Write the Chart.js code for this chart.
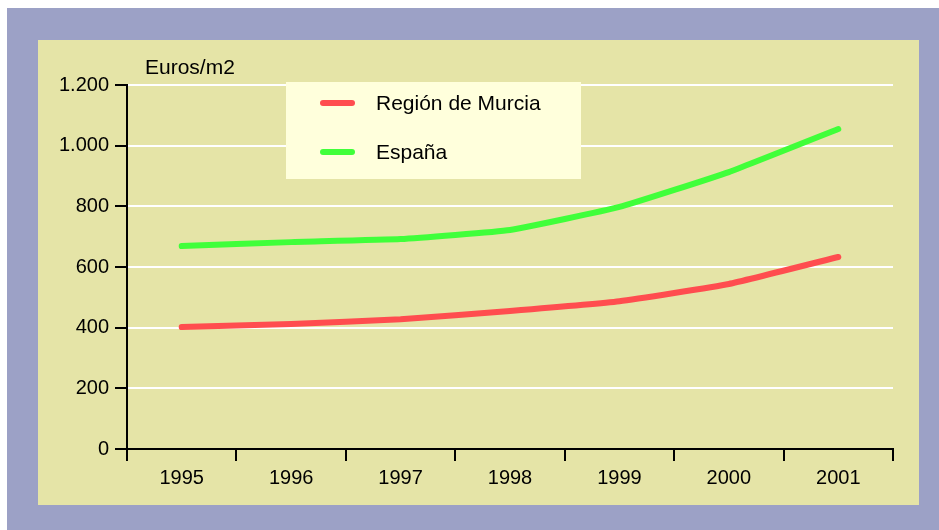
<!DOCTYPE html>
<html>
<head>
<meta charset="utf-8">
<script src="https://cdn.jsdelivr.net/npm/chart.js@4/dist/chart.umd.min.js"></script>
<style>
    html, body { margin: 0; padding: 0; background: #ffffff; }
    #wrap { position: relative; width: 939px; height: 530px; }
</style>
</head>
<body>
<div id="wrap"><canvas id="priceChart" width="939" height="530"></canvas></div>
<script>
// Precio medio de la vivienda (Euros/m2)
const years = ['1995', '1996', '1997', '1998', '1999', '2000', '2001'];
const murcia = [402, 412, 428, 455, 487, 544, 633];
const espana = [669, 682, 692, 722, 798, 913, 1055];
const yTicks = [0, 200, 400, 600, 800, 1000, 1200];
const unitLabel = 'Euros/m2';

const FONT = '"Liberation Sans", Arial, sans-serif';

function fmt(v) {
    return v.toString().replace(/\B(?=(\d{3})+(?!\d))/g, '.');
}

// paints the frame, the panel, the unit title and the legend box
const decor = {
    id: 'decor',
    beforeDraw(chart) {
        const c = chart.ctx;
        c.save();
        c.fillStyle = '#9ca1c6';
        c.fillRect(7, 8, 932, 522);
        c.fillStyle = '#e5e4a7';
        c.fillRect(38, 40, 881, 465);
        c.restore();
    },
    afterDraw(chart) {
        const c = chart.ctx;
        c.save();
        c.fillStyle = '#000';
        c.font = '21px ' + FONT;
        c.textBaseline = 'middle';
        c.fillText(unitLabel, 145, 68);

        // legend
        c.fillStyle = '#ffffdc';
        c.fillRect(286, 82, 295, 97);
        chart.data.datasets.forEach((ds, i) => {
            const y = 103 + i * 49;
            c.strokeStyle = ds.borderColor;
            c.lineWidth = 6;
            c.lineCap = 'round';
            c.beginPath();
            c.moveTo(323, y);
            c.lineTo(352, y);
            c.stroke();
            c.fillStyle = '#000';
            c.fillText(ds.label, 376, y + 1);
        });
        c.restore();
    }
};

new Chart(document.getElementById('priceChart'), {
    type: 'line',
    data: {
        labels: years,
        datasets: [{
            label: 'Región de Murcia',
            data: murcia,
            borderColor: '#ff4d4f',
            borderWidth: 6,
            borderCapStyle: 'round',
            pointRadius: 0,
            tension: 0.12
        }, {
            label: 'España',
            data: espana,
            borderColor: '#40ff3a',
            borderWidth: 6,
            borderCapStyle: 'round',
            pointRadius: 0,
            tension: 0.12
        }]
    },
    options: {
        responsive: false,
        animation: false,
        layout: {
            padding: { left: 0, top: 85, right: 46, bottom: 0 }
        },
        plugins: {
            legend: { display: false },
            tooltip: { enabled: false }
        },
        scales: {
            x: {
                offset: true,
                afterFit(scale) { scale.height = 81; },
                grid: {
                    offset: true,
                    drawOnChartArea: true,
                    color: (ctx) => ctx.index === years.length ? '#ffffff' : 'rgba(0,0,0,0)',
                    lineWidth: 2,
                    tickColor: '#000',
                    tickLength: 12
                },
                border: { color: '#000', width: 2 },
                ticks: {
                    color: '#000',
                    font: { family: FONT, size: 20 },
                    padding: 5,
                    maxRotation: 0
                }
            },
            y: {
                min: 0,
                max: 1200,
                afterFit(scale) { scale.width = 127; },
                afterBuildTicks(scale) {
                    scale.ticks = yTicks.map(v => ({ value: v }));
                },
                grid: {
                    color: '#ffffff',
                    lineWidth: 2,
                    tickColor: '#000',
                    tickLength: 12
                },
                border: { color: '#000', width: 2 },
                ticks: {
                    color: '#000',
                    font: { family: FONT, size: 20 },
                    padding: 6,
                    callback: (v) => fmt(v)
                }
            }
        }
    },
    plugins: [decor]
});
</script>
</body>
</html>
